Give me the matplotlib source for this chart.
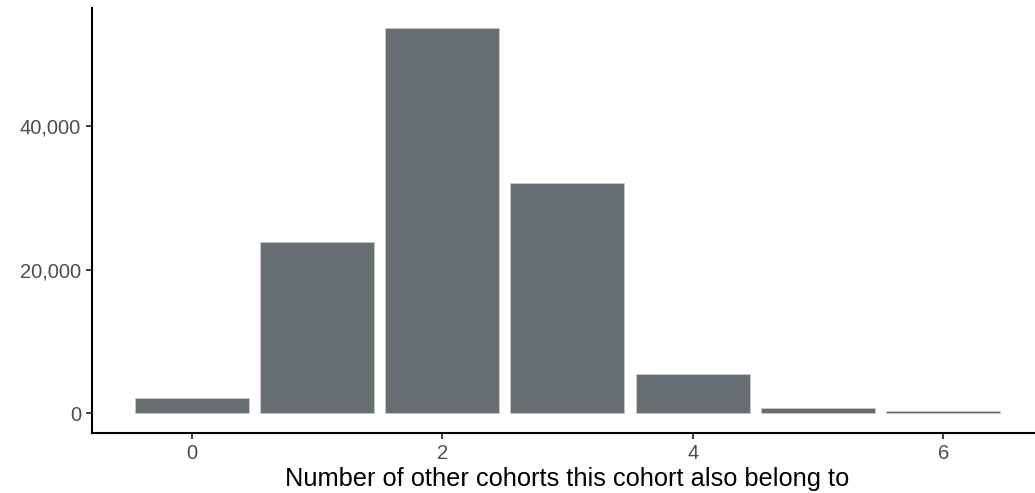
import numpy as np
import matplotlib
matplotlib.use("Agg")
import matplotlib.pyplot as plt
from matplotlib.ticker import FuncFormatter

plt.rcParams['font.family'] = ['Liberation Sans', 'DejaVu Sans']

# number of other cohorts a cohort also belongs to
n_other = [0, 1, 2, 3, 4, 5, 6]
counts = [2095, 23880, 53770, 32120, 5450, 790, 260]

fig = plt.figure(figsize=(10.35, 4.93), dpi=100)
ax = fig.add_axes([0.0889, 0.1225, 0.9188, 0.8603])

ax.bar(n_other, counts, width=0.91, color="#676e71", edgecolor="#c8c8c8", linewidth=0.6)

ax.set_xlim(-0.795, 6.795)
ax.set_ylim(-0.05 * max(counts), 1.05 * max(counts))
ax.set_xticks([0, 2, 4, 6])
ax.set_yticks([0, 20000, 40000])
ax.yaxis.set_major_formatter(FuncFormatter(lambda v, p: f"{int(v):,}"))

for s in ["top", "right"]:
    ax.spines[s].set_visible(False)
for s in ["left", "bottom"]:
    ax.spines[s].set_linewidth(1.5)
    ax.spines[s].set_color("black")
ax.tick_params(length=4, width=1.3, color="#333333", labelcolor="#4d4d4d", labelsize=14.5, pad=4)

ax.set_xlabel("Number of other cohorts this cohort also belong to", fontsize=18.3, color="black", labelpad=3)

fig.savefig("out.png", dpi=100)
